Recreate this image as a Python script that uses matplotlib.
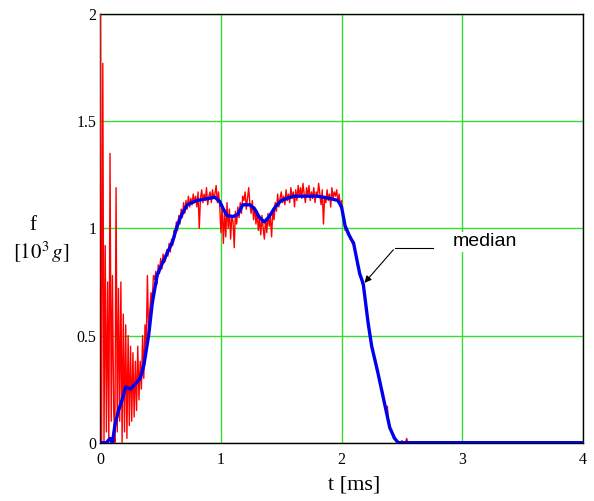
import numpy as np
import matplotlib
matplotlib.use("Agg")
import matplotlib.pyplot as plt

plt.rcParams["font.family"] = "Liberation Serif"
plt.rcParams["mathtext.fontset"] = "stix"

# median curve (blue)
t_med = [0.00, 0.05, 0.08, 0.10, 0.12, 0.15, 0.18, 0.21, 0.25, 0.30, 0.33, 0.36,
         0.40, 0.43, 0.47, 0.50, 0.55, 0.60, 0.63, 0.67, 0.72, 0.80, 0.90, 0.95,
         0.99, 1.02, 1.05, 1.10, 1.14, 1.18, 1.24, 1.28, 1.32, 1.36, 1.40, 1.45,
         1.50, 1.55, 1.60, 1.70, 1.80, 1.90, 1.97, 2.00, 2.03, 2.07, 2.10, 2.15,
         2.18, 2.22, 2.25, 2.30, 2.35, 2.40, 2.44, 2.47, 4.00]
f_med = [0.00, 0.00, 0.02, 0.00, 0.08, 0.15, 0.20, 0.26, 0.25, 0.28, 0.30, 0.36,
         0.50, 0.65, 0.78, 0.82, 0.88, 0.94, 1.00, 1.06, 1.11, 1.13, 1.14, 1.145,
         1.125, 1.09, 1.06, 1.055, 1.065, 1.11, 1.11, 1.09, 1.05, 1.03, 1.055, 1.10,
         1.13, 1.14, 1.15, 1.15, 1.15, 1.14, 1.13, 1.10, 1.01, 0.96, 0.93, 0.79,
         0.74, 0.56, 0.45, 0.33, 0.20, 0.07, 0.02, 0.00, 0.00]

# raw signal (red), sampled every 0.01 ms from 0 to 2.60
f_raw = [
    2.00, 0.00, 1.77, 0.00, 0.92, 0.05, 0.75, 0.00, 1.35, 0.10,
    0.78, 0.15, 0.00, 1.19, 0.05, 0.72, 0.10, 0.75, 0.00, 0.60,
    0.05, 0.55, 0.02, 0.50, 0.08, 0.45, 0.10, 0.42, 0.12, 0.38,
    0.15, 0.45, 0.20, 0.38, 0.25, 0.50, 0.30, 0.55, 0.45, 0.78,
    0.50, 0.62, 0.70, 0.66, 0.78, 0.76,
    0.80, 0.74, 0.83, 0.79, 0.86, 0.81, 0.88, 0.84, 0.85, 0.90,
    0.87, 0.93, 0.89, 0.95, 0.92, 0.99, 0.96, 1.03, 0.99, 1.06,
    1.02, 1.09, 1.05, 1.12, 1.07, 1.13, 1.09, 1.15, 1.10, 1.14,
    1.11, 1.16, 1.12, 1.15, 1.10, 1.17, 1.00, 1.14, 1.18, 1.12,
    1.16, 1.13, 1.19, 1.11, 1.15, 1.17, 1.12, 1.18, 1.14, 1.16,
    1.20, 1.12, 1.17, 1.10, 0.98, 1.10, 0.93, 1.08, 0.96, 1.12,
    1.00, 1.09, 0.95, 1.06, 1.03, 0.91, 1.08, 1.02, 1.10, 1.05,
    1.12, 1.07, 1.15, 1.13, 1.17, 1.09, 1.14, 1.19, 1.11, 1.07,
    1.13, 1.04, 1.10, 1.02, 1.08, 0.99, 1.05, 0.97, 1.06, 1.00,
    0.95, 1.04, 0.98, 1.07, 1.01, 1.05, 0.96, 1.09, 1.04, 1.12,
    1.08, 1.16, 1.10, 1.14, 1.17, 1.12, 1.15, 1.11, 1.18, 1.13,
    1.16, 1.12, 1.19, 1.14, 1.17, 1.10, 1.18, 1.13, 1.20, 1.15,
    1.19, 1.14, 1.21, 1.16, 1.12, 1.19, 1.15, 1.20, 1.13, 1.17,
    1.14, 1.19, 1.12, 1.17, 1.15, 1.21, 1.16, 1.11, 1.18, 1.02,
    1.15, 1.12, 1.18, 1.13, 1.16, 1.10, 1.19, 1.14, 1.17, 1.15,
    1.18, 1.12, 1.16, 1.10, 1.13, 1.05, 1.04, 0.99, 1.01, 0.97,
    0.98, 0.95, 0.96, 0.93, 0.94, 0.89, 0.88, 0.83, 0.82, 0.78,
    0.78, 0.74, 0.75, 0.69, 0.66, 0.60, 0.57, 0.51, 0.50, 0.44,
    0.44, 0.39, 0.39, 0.34, 0.34, 0.29, 0.29, 0.24, 0.24, 0.19,
    0.18, 0.14, 0.17, 0.09, 0.08, 0.05, 0.05, 0.02, 0.02, 0.01,
    0.00, 0.00, 0.00, 0.00, 0.01, 0.00, 0.00, 0.00, 0.02, 0.00,
    0.00, 0.00, 0.00, 0.00, 0.00,
]
t_raw = np.round(np.arange(len(f_raw)) * 0.01, 2)

x_ticks = [0, 1, 2, 3, 4]
y_ticks = [0, 0.5, 1, 1.5, 2]
y_labels = ["0", "0.5", "1", "1.5", "2"]

fig = plt.figure(figsize=(5.94, 5.01), dpi=100)
ax = fig.add_axes([0.169, 0.1164, 0.812, 0.8556])

ax.plot(t_raw, f_raw, color="#ff0000", lw=1.0, zorder=3)
ax.plot(t_med, f_med, color="#0000ee", lw=2.4, zorder=4)

ax.set_xlim(0, 4)
ax.set_ylim(0, 2)
ax.set_xticks(x_ticks)
ax.set_yticks(y_ticks)
ax.set_yticklabels(y_labels)
ax.tick_params(length=0, labelsize=11.5)
ax.tick_params(axis="x", pad=7)
ax.tick_params(axis="y", pad=3)
ax.grid(True, color="#33dd33", lw=1.0)
for s in ax.spines.values():
    s.set_color("black")
    s.set_linewidth(1.0)

fig.text(0.596, 0.032, "t [ms]", fontsize=16, ha="center", va="center")
fig.text(0.0556, 0.549, "f", fontsize=15, ha="center", va="center")
fig.text(0.069, 0.497, r"$[10^3\,g]$", fontsize=15, ha="center", va="center")

# annotation
ax.plot([2.445, 2.755], [0.91, 0.91], color="black", lw=0.8, zorder=5)
ax.annotate("", xy=(2.175, 0.736), xytext=(2.445, 0.91),
            arrowprops=dict(arrowstyle="-|>", color="black", lw=0.8,
                            mutation_scale=10), zorder=5)
ax.text(3.185, 0.938, "median", fontsize=14, family="Liberation Sans",
        ha="center", va="center", zorder=6,
        bbox=dict(facecolor="white", edgecolor="none", pad=1))

fig.savefig("out.png", dpi=100)
